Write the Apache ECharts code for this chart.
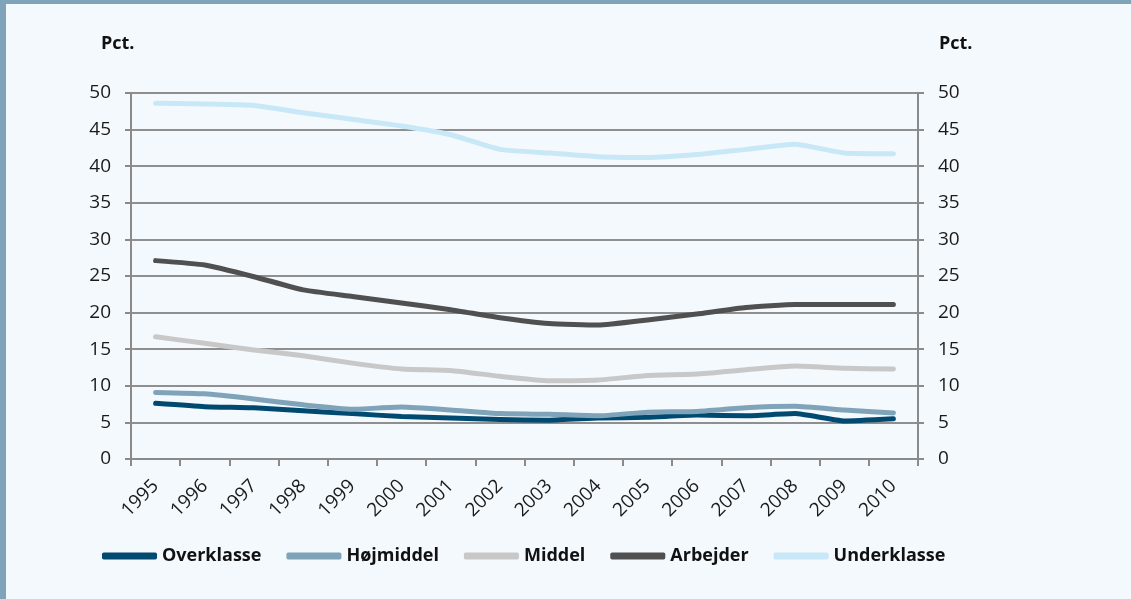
<!DOCTYPE html>
<html>
<head>
<meta charset="utf-8">
<script src="https://cdn.jsdelivr.net/npm/echarts@6/dist/echarts.min.js"></script>
<style>
html,body{margin:0;padding:0;background:#f4f9fd;}
#c{width:1131px;height:599px;}
</style>
</head>
<body>
<div id="c"></div>
<script>
const years = ['1995','1996','1997','1998','1999','2000','2001','2002','2003','2004','2005','2006','2007','2008','2009','2010'];
const overklasse = [7.6,7.15,7.0,6.6,6.2,5.8,5.6,5.4,5.3,5.6,5.7,6.0,5.9,6.2,5.2,5.5];
const hojmiddel = [9.1,8.9,8.2,7.4,6.8,7.1,6.7,6.2,6.1,5.9,6.4,6.5,7.0,7.2,6.7,6.3];
const middel = [16.7,15.8,14.9,14.1,13.1,12.3,12.1,11.3,10.7,10.8,11.4,11.6,12.2,12.7,12.4,12.3];
const arbejder = [27.1,26.5,24.9,23.1,22.2,21.3,20.4,19.3,18.5,18.3,19.0,19.8,20.7,21.1,21.1,21.1];
const underklasse = [48.6,48.5,48.3,47.3,46.4,45.5,44.3,42.3,41.8,41.3,41.2,41.6,42.3,43.0,41.8,41.7];
const yTicks = [0,5,10,15,20,25,30,35,40,45,50];

const FONT = '"Open Sans", Lato, sans-serif';
const names = ['Overklasse','Højmiddel','Middel','Arbejder','Underklasse'];
const colors = ['#004a72','#7fa3b8','#c8c8c8','#505050','#c9e8f7'];
const datas = [overklasse,hojmiddel,middel,arbejder,underklasse];

const chart = echarts.init(document.getElementById('c'));
function yAxis(pos){
  return {
    type:'value', position:pos, min:0, max:50, interval:5,
    axisLine:{show:true,lineStyle:{color:'#8a8a8a',width:2}},
    axisTick:{show:true,length:6,lineStyle:{color:'#8a8a8a',width:2}},
    splitLine:{show:pos==='left',lineStyle:{color:'#8f8f8f',width:2}},
    axisLabel:{color:'#1a1a1a',fontSize:19,fontFamily:FONT,margin:20,
      formatter:v=>yTicks.includes(v)?String(v):''}
  };
}
chart.setOption({
  backgroundColor:'#f4f9fd',
  animation:false,
  grid:{left:131,right:213,top:93,bottom:140},
  legend:{
    left:97, top:542, itemWidth:55, itemHeight:7, itemGap:25,
    icon:'roundRect',
    textStyle:{fontSize:18,fontWeight:'bold',color:'#111',fontFamily:FONT},
    data:names
  },
  xAxis:{
    type:'category', data:years, boundaryGap:true,
    axisLine:{lineStyle:{color:'#8a8a8a',width:2}},
    axisTick:{show:true,length:7,interval:0,lineStyle:{color:'#8a8a8a',width:2}},
    axisLabel:{rotate:45,color:'#1a1a1a',fontSize:19,fontFamily:FONT,margin:24,interval:0}
  },
  yAxis:[yAxis('left'),yAxis('right')],
  graphic:[
    {type:'rect',left:0,top:0,shape:{width:1131,height:4},style:{fill:'#7fa3b8'}},
    {type:'rect',left:0,top:0,shape:{width:6,height:599},style:{fill:'#7fa3b8'}},
    {type:'text',left:101,top:35,style:{text:'Pct.',fontSize:18,fontWeight:'bold',fill:'#111',fontFamily:FONT}},
    {type:'text',left:939,top:35,style:{text:'Pct.',fontSize:18,fontWeight:'bold',fill:'#111',fontFamily:FONT}}
  ],
  series:names.map((n,i)=>({
    name:n, type:'line', data:datas[i], yAxisIndex:0,
    showSymbol:false, symbol:'none', smooth:0.15,
    lineStyle:{color:colors[i],width:5,cap:'round',join:'round'},
    itemStyle:{color:colors[i]},
    z:2+i
  }))
});
</script>
</body>
</html>
